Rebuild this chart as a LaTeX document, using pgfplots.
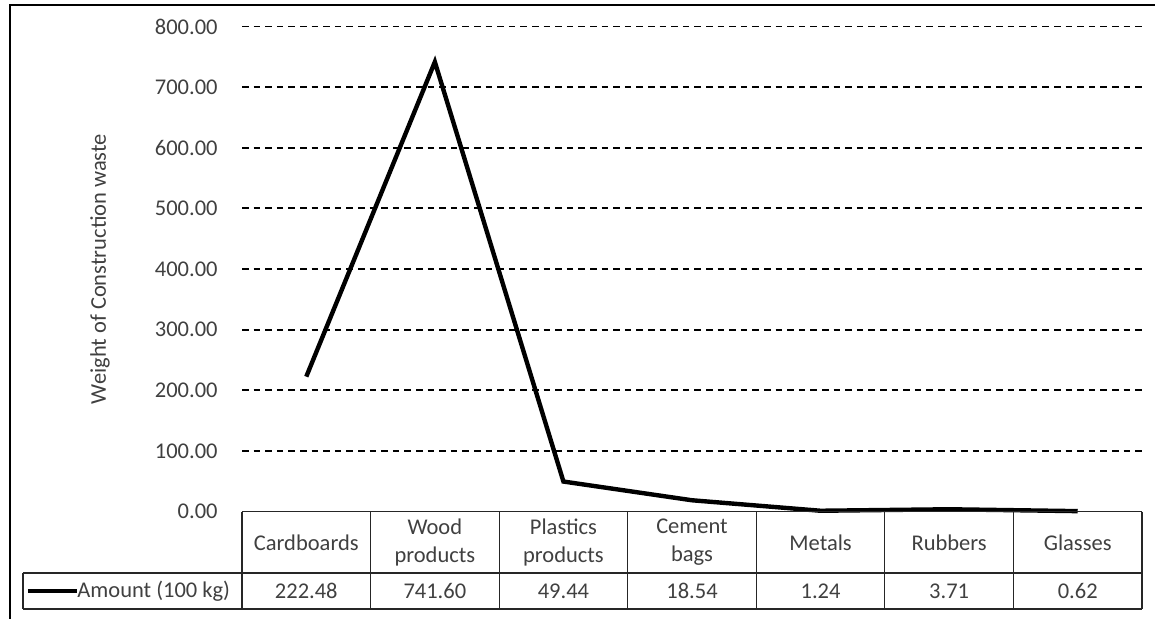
\documentclass[border=0pt]{standalone}
\usepackage{fontspec}
\setmainfont{Carlito}
\usepackage{pgfplots}
\usepackage{pgfplotstable}
\pgfplotsset{compat=1.18}

% Construction waste by category (amount in units of 100 kg)
\pgfplotstableread{
idx amount
0 222.48
1 741.60
2 49.44
3 18.54
4 1.24
5 3.71
6 0.62
}\wastedata

\definecolor{txt}{gray}{0.25}
\definecolor{rule}{gray}{0.15}

\begin{document}
\fontsize{11.25}{14}\selectfont
\begin{tikzpicture}
\begin{axis}[
  scale only axis,
  width=450pt, height=242.5pt,
  xmin=-0.5, xmax=6.5,
  ymin=0, ymax=800,
  clip=false,
  axis lines*=left,
  axis line style={draw=none},
  major tick length=0pt,
  xtick={0,...,6},
  xticklabels={Cardboards, Wood\\products, Plastics\\products, Cement\\bags, Metals, Rubbers, Glasses},
  xticklabel style={anchor=center, align=center, inner sep=0pt, yshift=-15.4pt, text=txt,
    font=\fontsize{11.25}{14}\selectfont},
  ytick={100,200,...,800},
  extra y ticks={0},
  extra y tick style={ymajorgrids=false},
  ymajorgrids,
  grid style={black, line width=0.9pt, dash pattern=on 3.3pt off 2.5pt},
  /pgf/number format/assume math mode=true,
  yticklabel={\pgfmathprintnumber[fixed,fixed zerofill,precision=2]{\tick}},
  yticklabel style={anchor=east, inner sep=0pt, xshift=-12pt, text=txt,
    font=\fontsize{11.25}{14}\selectfont},
]
\addplot[black, line width=2.2pt, mark=none] table[x=idx, y=amount]{\wastedata};
% value row of the data table
\addplot[draw=none, mark=none, point meta=explicit,
  nodes near coords={\pgfmathprintnumber[fixed,fixed zerofill,precision=2]{\pgfplotspointmeta}},
  every node near coord/.append style={anchor=center, inner sep=0pt, text=txt,
    font=\fontsize{11.25}{14}\selectfont}]
  table[x=idx, y expr=-131.1, meta=amount]{\wastedata};
\end{axis}

% data table grid below the plot
\draw[rule, line width=0.6pt] (0,0) -- (450pt,0);
\draw[rule, line width=0.6pt] (-109.5pt,-30.75pt) -- (450pt,-30.75pt);
\draw[rule, line width=0.6pt] (-109.5pt,-48.75pt) -- (450pt,-48.75pt);
\draw[rule, line width=0.6pt] (-109.5pt,-30.75pt) -- (-109.5pt,-48.75pt);
\foreach \i in {0,...,7} {
  \draw[rule, line width=0.6pt] ({\i*450pt/7},0) -- ({\i*450pt/7},-48.75pt);
}
% legend key in the table
\draw[black, line width=2.2pt] (-107pt,-39.75pt) -- (-82.5pt,-39.75pt);
\node[anchor=west, inner sep=0pt, text=txt] at (-82.5pt,-39.75pt) {Amount (100 kg)};

% axis title
\node[rotate=90, text=txt, inner sep=0pt] at (-71pt,121.25pt) {Weight of Construction waste};

% chart frame
\draw[black, line width=1pt] (-116pt,253.25pt) -- (460pt,253.25pt);
\draw[black, line width=1pt] (-116pt,253.75pt) -- (-116pt,-60pt);

\pgfresetboundingbox
\path (-121pt,-53.25pt) rectangle (456.5pt,255.75pt);
\end{tikzpicture}
\end{document}
